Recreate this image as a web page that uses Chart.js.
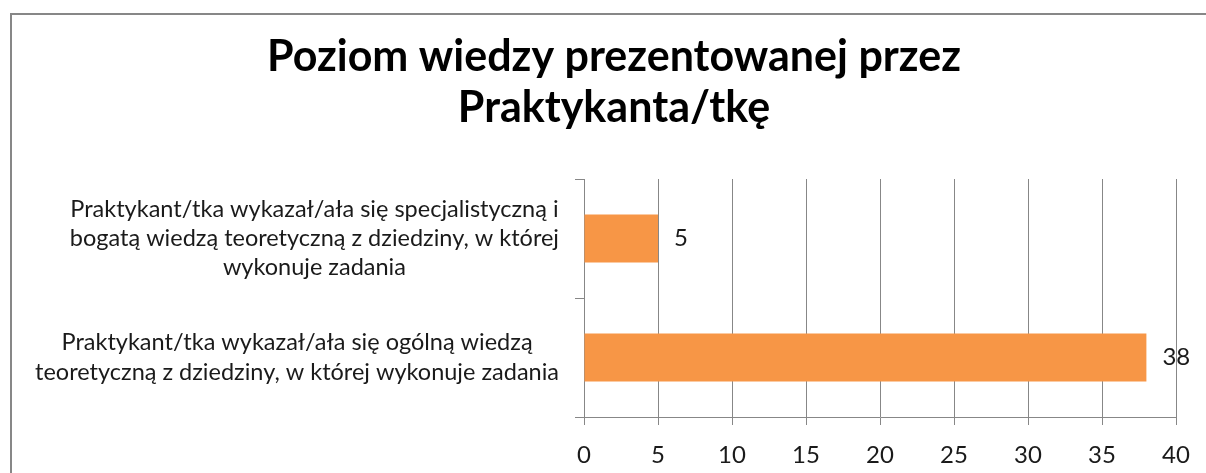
<!DOCTYPE html>
<html>
<head>
<meta charset="utf-8">
<script src="https://cdn.jsdelivr.net/npm/chart.js@4.4.1/dist/chart.umd.min.js"></script>
<style>
  html, body { margin: 0; padding: 0; background: #fff; overflow: hidden; }
  #frame { position: absolute; left: 10px; top: 13px; width: 1400px; height: 700px;
           border-left: 2px solid #878787; border-top: 2px solid #878787; }
  #wrap { position: absolute; left: 0; top: 0; width: 1206px; height: 473px; }
</style>
</head>
<body>
<div id="frame"></div>
<div id="wrap"><canvas id="c" width="1206" height="473"></canvas></div>
<script>
const titleLines = ['Poziom wiedzy prezentowanej przez', 'Praktykanta/tkę'];
const categories = [
  ['Praktykant/tka wykazał/ała się specjalistyczną i', 'bogatą wiedzą teoretyczną z dziedziny, w której', 'wykonuje zadania'],
  ['Praktykant/tka wykazał/ała się ogólną wiedzą', 'teoretyczną z dziedziny, w której wykonuje zadania']
];
const values = [5, 38];
const xTicks = [0, 5, 10, 15, 20, 25, 30, 35, 40];

const FONT = 'Lato';
const GRID = '#878787';
const TEXT = '#1a1a1a';

const valueLabels = {
  id: 'valueLabels',
  afterLayout(chart) {
    // centre the title over the same span as the original picture
    chart.titleBlock.left = 52;
    chart.titleBlock.right = 1176;
  },
  afterDatasetsDraw(chart) {
    const ctx = chart.ctx;
    const meta = chart.getDatasetMeta(0);
    ctx.save();
    ctx.font = '24px ' + FONT;
    ctx.fillStyle = TEXT;
    ctx.textAlign = 'left';
    ctx.textBaseline = 'middle';
    meta.data.forEach((bar, i) => {
      ctx.fillText(String(values[i]), bar.x + 16, bar.y);
    });
    ctx.restore();
  }
};

new Chart(document.getElementById('c'), {
  type: 'bar',
  data: {
    labels: categories,
    datasets: [{
      data: values,
      backgroundColor: '#F79646',
      borderWidth: 0,
      barPercentage: 0.405,
      categoryPercentage: 1
    }]
  },
  options: {
    indexAxis: 'y',
    responsive: false,
    animation: false,
    devicePixelRatio: 1,
    layout: { padding: { left: 0, right: 30, top: 0, bottom: 0 } },
    plugins: {
      legend: { display: false },
      tooltip: { enabled: false },
      title: {
        display: true,
        text: titleLines,
        color: '#000',
        font: { family: FONT, size: 43, weight: 'bold', lineHeight: 1.2 },
        padding: { top: 31, bottom: 44.8 }
      }
    },
    scales: {
      x: {
        min: 0, max: 40,
        afterBuildTicks(scale) { scale.ticks = xTicks.map(v => ({ value: v })); },
        afterFit(scale) { scale.height = 56; },
        grid: { color: GRID, lineWidth: 1, tickLength: 8, drawTicks: true },
        border: { display: true, color: GRID, width: 1 },
        ticks: { color: TEXT, padding: 16, font: { family: FONT, size: 24 }, maxRotation: 0 }
      },
      y: {
        afterFit(scale) { scale.width = 584; scale.paddingTop = 0; scale.paddingBottom = 0; },
        afterUpdate(scale) {
          const orig = scale._computeLabelItems.bind(scale);
          scale._computeLabelItems = function(ca) {
            const items = orig(ca);
            const sizes = scale._getLabelSizes();
            items.forEach((it, i) => {
              const w = sizes.widths[i];
              it.options.textAlign = 'center';
              it.options.translation[0] = scale.right - 25 - w / 2;
            });
            return items;
          };
        },
        grid: { color: GRID, lineWidth: 1, drawOnChartArea: false, tickLength: 9, offset: true },
        border: { display: true, color: GRID, width: 1 },
        ticks: { color: TEXT, padding: 0, crossAlign: 'center', font: { family: FONT, size: 23.5, lineHeight: 1.25 } }
      }
    }
  },
  plugins: [valueLabels]
});
</script>
</body>
</html>
